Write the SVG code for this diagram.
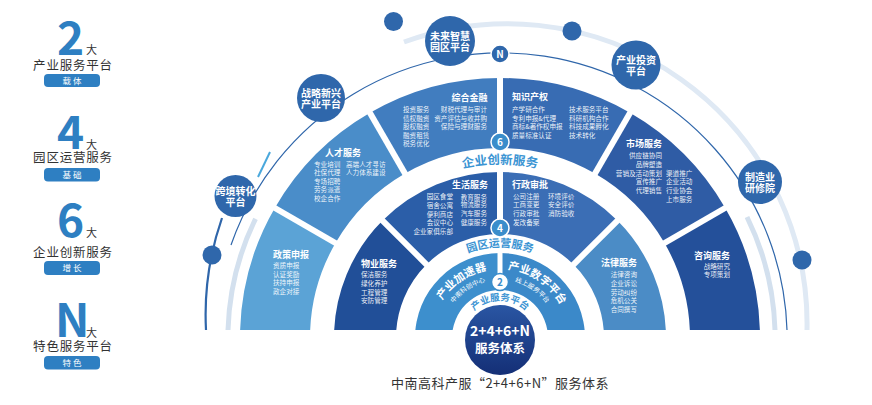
<svg xmlns="http://www.w3.org/2000/svg" width="872" height="405" viewBox="0 0 872 405">
<style>
text{font-family:"Noto Sans CJK SC","Noto Sans",sans-serif}
.big{font-size:46px;font-weight:700;fill:#2e7fc2}
.da{font-size:11px;fill:#333}
.lg{font-size:12.5px;fill:#333;letter-spacing:0.8px;text-anchor:middle}
.pill{fill:#2e7fc2}
.pt{font-size:8.5px;fill:#fff;letter-spacing:2px;text-anchor:middle}
.ttl{font-size:9px;font-weight:700;fill:#fff}
.it{font-size:6.6px;fill:#fff;fill-opacity:0.92}
.e{text-anchor:end}
.arcl{font-weight:700;fill:#3b94d3}
.rl{font-size:11px;font-weight:700;fill:#fff}
.rs{font-size:6.5px;fill:#fff}
.oc{fill:#2f67ab}
.ot{font-size:10px;font-weight:700;fill:#fff;text-anchor:middle}
.dot{fill:#2f67ab}
.sep{stroke:#fff;stroke-width:6}
.bd{stroke:#fff;stroke-width:1.5}
.bt{font-size:10px;font-weight:700;fill:#fff;text-anchor:middle}
</style>
<defs>
<clipPath id="base"><rect x="0" y="0" width="872" height="330"/></clipPath>
<linearGradient id="cg" x1="0" y1="0" x2="0" y2="1"><stop offset="0" stop-color="#2a56a3"/><stop offset="1" stop-color="#142f76"/></linearGradient>
<path id="pInno" d="M326 338 A174 174 0 0 1 674 338"/>
<path id="pPark" d="M409 338 A91 91 0 0 1 591 338"/>
<path id="pInd" d="M462.5 338 A37.5 37.5 0 0 1 537.5 338"/>
<path id="pAcc" d="M432.3 324.8 A69 69 0 0 1 513.2 270.3"/>
<path id="pAccS" d="M443.1 326.9 A58 58 0 0 1 511.1 281.1"/>
<path id="pDig" d="M486.8 270.3 A69 69 0 0 1 567.7 324.8"/>
<path id="pDigS" d="M488.9 281.1 A58 58 0 0 1 556.9 326.9"/>
</defs>

<g id="legend">
<text class="big" x="57" y="55">2</text><text class="da" x="86" y="54">大</text>
<text class="lg" x="73" y="70">产业服务平台</text>
<rect class="pill" x="44" y="74" width="56" height="13" rx="4"/><text class="pt" x="73" y="84">载体</text>
<text class="big" x="57" y="149">4</text><text class="da" x="86" y="149">大</text>
<text class="lg" x="73" y="162">园区运营服务</text>
<rect class="pill" x="44" y="168" width="56" height="13.5" rx="4"/><text class="pt" x="73" y="178">基础</text>
<text class="big" x="57" y="237">6</text><text class="da" x="86" y="237">大</text>
<text class="lg" x="73" y="256.5">企业创新服务</text>
<rect class="pill" x="44" y="261" width="56" height="14" rx="4"/><text class="pt" x="73" y="271">增长</text>
<text class="big" x="55" y="337">N</text><text class="da" x="86" y="337">大</text>
<text class="lg" x="73" y="351">特色服务平台</text>
<rect class="pill" x="44" y="356" width="56" height="13.5" rx="4"/><text class="pt" x="73" y="366">特色</text>
</g>

<g id="connectors" fill="none">
<path d="M404 42 A300 300 0 0 1 807 330" stroke="#dfe9f4" stroke-width="5"/>
<path d="M747 217 A275 275 0 0 1 775 330" stroke="#d3e0ee" stroke-width="5"/>
<path d="M255.5 218.8 A272 272 0 0 0 228 330" stroke="#d3e0ee" stroke-width="5"/>
<path d="M231 245 A286 286 0 0 1 787 330" stroke="#2f66aa" stroke-width="1.2"/>
<path d="M222 218 A294 294 0 0 0 206 330" stroke="#2f66aa" stroke-width="2.2"/>
<path d="M270 152 L258 177" stroke="#4aa8dc" stroke-width="2"/>
</g>

<g clip-path="url(#base)">
<g id="n-zhengce"><path d="M240 338 A260 260 0 0 1 274.8 208 L335.5 243 A190 190 0 0 0 310 338 Z" fill="#5ba3d6"/></g>
<g id="n-rencai"><path d="M274.8 208 A260 260 0 0 1 370 112.8 L405 173.5 A190 190 0 0 0 335.5 243 Z" fill="#4a8dc9"/></g>
<g id="n-jinrong"><path d="M370 112.8 A260 260 0 0 1 500 78 L500 148 A190 190 0 0 0 405 173.5 Z" fill="#417dbf"/></g>
<g id="n-zhishi"><path d="M500 78 A260 260 0 0 1 630 112.8 L595 173.5 A190 190 0 0 0 500 148 Z" fill="#386cb3"/></g>
<g id="n-shichang"><path d="M630 112.8 A260 260 0 0 1 725.2 208 L664.5 243 A190 190 0 0 0 595 173.5 Z" fill="#2f5ca5"/></g>
<g id="n-zixun"><path d="M725.2 208 A260 260 0 0 1 760 338 L690 338 A190 190 0 0 0 664.5 243 Z" fill="#24509a"/></g>
<g id="n-wuye"><path d="M334 338 A166 166 0 0 1 382.6 220.6 L426.5 264.5 A104 104 0 0 0 396 338 Z" fill="#214f98"/></g>
<g id="n-shenghuo"><path d="M382.6 220.6 A166 166 0 0 1 500 172 L500 234 A104 104 0 0 0 426.5 264.5 Z" fill="#2b5ea8"/></g>
<g id="n-xingzheng"><path d="M500 172 A166 166 0 0 1 617.4 220.6 L573.5 264.5 A104 104 0 0 0 500 234 Z" fill="#3b6eb5"/></g>
<g id="n-falv"><path d="M617.4 220.6 A166 166 0 0 1 666 338 L604 338 A104 104 0 0 0 573.5 264.5 Z" fill="#4b8cc6"/></g>
<g id="n-jiasu"><path d="M415 338 A85 85 0 0 1 500 253 L500 290 A48 48 0 0 0 452 338 Z" fill="#3d8fcd"/></g>
<g id="n-shuzi"><path d="M500 253 A85 85 0 0 1 585 338 L548 338 A48 48 0 0 0 500 290 Z" fill="#3b89c9"/></g>
</g>

<g id="separators">
<line class="sep" x1="338.9" y1="245" x2="271.4" y2="206"/>
<line class="sep" x1="407" y1="176.9" x2="368" y2="109.4"/>
<line class="sep" x1="500" y1="152" x2="500" y2="74"/>
<line class="sep" x1="593" y1="176.9" x2="632" y2="109.4"/>
<line class="sep" x1="661.1" y1="245" x2="728.6" y2="206"/>
<line class="sep" x1="429.3" y1="267.3" x2="379.8" y2="217.8"/>
<line class="sep" x1="500" y1="238" x2="500" y2="168"/>
<line class="sep" x1="570.7" y1="267.3" x2="620.2" y2="217.8"/>
<line class="sep" style="stroke-width:5" x1="500" y1="293" x2="500" y2="250"/>
</g>

<g id="t-zhengce"><text class="ttl" x="273" y="258">政策申报</text>
<text class="it" x="273" y="268.4">资质申报</text><text class="it" x="273" y="276.9">认证奖励</text><text class="it" x="273" y="285.4">扶持申报</text><text class="it" x="273" y="293.9">政企对接</text></g>
<g id="t-rencai"><text class="ttl" x="325" y="156">人才服务</text>
<text class="it" x="314" y="166.7">专业培训</text><text class="it" x="314" y="175.2">社保代理</text><text class="it" x="314" y="183.7">专场招聘</text><text class="it" x="314" y="192.2">劳务派遣</text><text class="it" x="314" y="200.7">校企合作</text>
<text class="it" x="346" y="166.7">高端人才寻访</text><text class="it" x="346" y="175.2">人力体系建设</text></g>
<g id="t-jinrong"><text class="ttl e" x="487.5" y="101">综合金融</text>
<text class="it" x="403" y="112.4">投资服务</text><text class="it" x="403" y="120.9">债权融资</text><text class="it" x="403" y="129.4">股权融资</text><text class="it" x="403" y="137.9">融资租赁</text><text class="it" x="403" y="146.4">税务优化</text>
<text class="it e" x="487" y="112.4">财税代理与审计</text><text class="it e" x="487" y="120.9">资产评估与收并购</text><text class="it e" x="487" y="129.4">保险与理财服务</text></g>
<g id="t-zhishi"><text class="ttl" x="512" y="100">知识产权</text>
<text class="it" x="512" y="112.4">产学研合作</text><text class="it" x="512" y="120.9">专利申报&amp;代理</text><text class="it" x="512" y="129.4">商标&amp;著作权申报</text><text class="it" x="512" y="137.9">质量标准认证</text>
<text class="it" x="569" y="112.4">技术服务平台</text><text class="it" x="569" y="120.9">科研机构合作</text><text class="it" x="569" y="129.4">科技成果孵化</text><text class="it" x="569" y="137.9">技术转化</text></g>
<g id="t-shichang"><text class="ttl e" x="662" y="146.5">市场服务</text>
<text class="it e" x="662" y="158.1">供应链协同</text><text class="it e" x="662" y="166.7">品牌塑造</text><text class="it e" x="662" y="175.7">营销及活动策划</text><text class="it e" x="662" y="184.4">宣传推广</text><text class="it e" x="662" y="193.1">代理销售</text>
<text class="it" x="666" y="175.7">渠道推广</text><text class="it" x="666" y="184.4">企业活动</text><text class="it" x="666" y="193.1">行业协会</text><text class="it" x="666" y="201.7">上市服务</text></g>
<g id="t-zixun"><text class="ttl e" x="730" y="259">咨询服务</text>
<text class="it e" x="730" y="269.1">战略研究</text><text class="it e" x="730" y="277.4">专项策划</text></g>
<g id="t-shenghuo"><text class="ttl e" x="488" y="188.2">生活服务</text>
<text class="it e" x="453" y="199.1">园区食堂</text><text class="it e" x="453" y="208.1">宿舍公寓</text><text class="it e" x="453" y="216.7">便利商店</text><text class="it e" x="453" y="225.1">会议中心</text><text class="it e" x="453" y="234.1">企业家俱乐部</text>
<text class="it e" x="487" y="199.7">教育服务</text><text class="it e" x="487" y="207.4">物流服务</text><text class="it e" x="487" y="215.7">汽车服务</text><text class="it e" x="487" y="224.7">健康服务</text></g>
<g id="t-xingzheng"><text class="ttl" x="512" y="188.2">行政审批</text>
<text class="it" x="513" y="199.1">公司注册</text><text class="it" x="513" y="207.4">工商变更</text><text class="it" x="513" y="215.7">行政审批</text><text class="it" x="513" y="224.7">发改备案</text>
<text class="it" x="548" y="199.1">环境评价</text><text class="it" x="548" y="207.4">安全评价</text><text class="it" x="548" y="215.7">消防验收</text></g>
<g id="t-wuye"><text class="ttl" x="361" y="266.5">物业服务</text>
<text class="it" x="361" y="277.4">保洁服务</text><text class="it" x="361" y="286.1">绿化养护</text><text class="it" x="361" y="294.7">工程管理</text><text class="it" x="361" y="303.4">安防管理</text></g>
<g id="t-falv"><text class="ttl e" x="637" y="266">法律服务</text>
<text class="it e" x="637" y="277.4">法律咨询</text><text class="it e" x="637" y="285.7">企业诉讼</text><text class="it e" x="637" y="294.7">劳动纠纷</text><text class="it e" x="637" y="303.4">危机公关</text><text class="it e" x="637" y="312.4">合同撰写</text></g>
<g id="t-ring1">
<text class="rl"><textPath href="#pAcc" startOffset="50%" text-anchor="middle">产业加速器</textPath></text>
<text class="rs"><textPath href="#pAccS" startOffset="50%" text-anchor="middle">中南科创中心</textPath></text>
<text class="rl"><textPath href="#pDig" startOffset="50%" text-anchor="middle">产业数字平台</textPath></text>
<text class="rs"><textPath href="#pDigS" startOffset="50%" text-anchor="middle">线上服务平台</textPath></text>
</g>

<g id="ring-labels">
<text class="arcl" style="font-size:12.5px"><textPath href="#pInno" startOffset="50%" text-anchor="middle">企业创新服务</textPath></text>
<text class="arcl" style="font-size:11px"><textPath href="#pPark" startOffset="50%" text-anchor="middle">园区运营服务</textPath></text>
<text class="arcl" style="font-size:9.5px"><textPath href="#pInd" startOffset="50%" text-anchor="middle">产业服务平台</textPath></text>
</g>

<g id="center">
<circle cx="500" cy="340" r="35" fill="url(#cg)"/>
<text x="500" y="336" style="font-size:14px;font-weight:700;fill:#fff;text-anchor:middle">2+4+6+N</text>
<text x="500" y="353" style="font-size:12.5px;font-weight:700;fill:#fff;text-anchor:middle">服务体系</text>
</g>

<g id="badges">
<g id="b-2"><circle cx="500" cy="282" r="8.5" fill="#fff" stroke="#3a8dcb" stroke-width="1.5"/><text class="bt" x="500" y="285.6" style="fill:#3a8dcb">2</text></g>
<g id="b-4"><circle class="bd" cx="500" cy="228" r="9" fill="#3a8dcb"/><text class="bt" x="500" y="231.6">4</text></g>
<g id="b-6"><circle class="bd" cx="500" cy="142" r="9" fill="#3a8dcb"/><text class="bt" x="500" y="145.6">6</text></g>
<g id="b-n"><circle class="bd" cx="500" cy="54" r="9" fill="#2f67ab"/><text class="bt" x="500" y="57.6">N</text></g>
</g>

<g id="dots">
<circle class="dot" cx="393.5" cy="21.5" r="9.5"/>
<circle class="dot" cx="572" cy="31" r="9.5"/>
<circle class="dot" cx="212" cy="255" r="9.5"/>
<circle class="dot" cx="802" cy="260" r="9.5"/>
</g>

<g id="o-zhanlue"><circle class="oc" cx="321" cy="98" r="24"/><text class="ot" x="321" y="96.5">战略新兴</text><text class="ot" x="321" y="108">产业平台</text></g>
<g id="o-weilai"><circle class="oc" cx="450" cy="41" r="25"/><text class="ot" x="450" y="39.5">未来智慧</text><text class="ot" x="450" y="51">园区平台</text></g>
<g id="o-touzi"><circle class="oc" cx="636" cy="65" r="24.5"/><text class="ot" x="636" y="63.5">产业投资</text><text class="ot" x="636" y="75">平台</text></g>
<g id="o-kuajing"><circle class="oc" cx="235.5" cy="196" r="21"/><text class="ot" x="235.5" y="194.5">跨境转化</text><text class="ot" x="235.5" y="206">平台</text></g>
<g id="o-zhizao"><circle class="oc" cx="760" cy="182" r="22"/><text class="ot" x="760" y="180.5">制造业</text><text class="ot" x="760" y="192">研修院</text></g>

<text x="500" y="388" style="font-size:13px;fill:#333;letter-spacing:0.5px;text-anchor:middle">中南高科产服“2+4+6+N”服务体系</text>
</svg>
